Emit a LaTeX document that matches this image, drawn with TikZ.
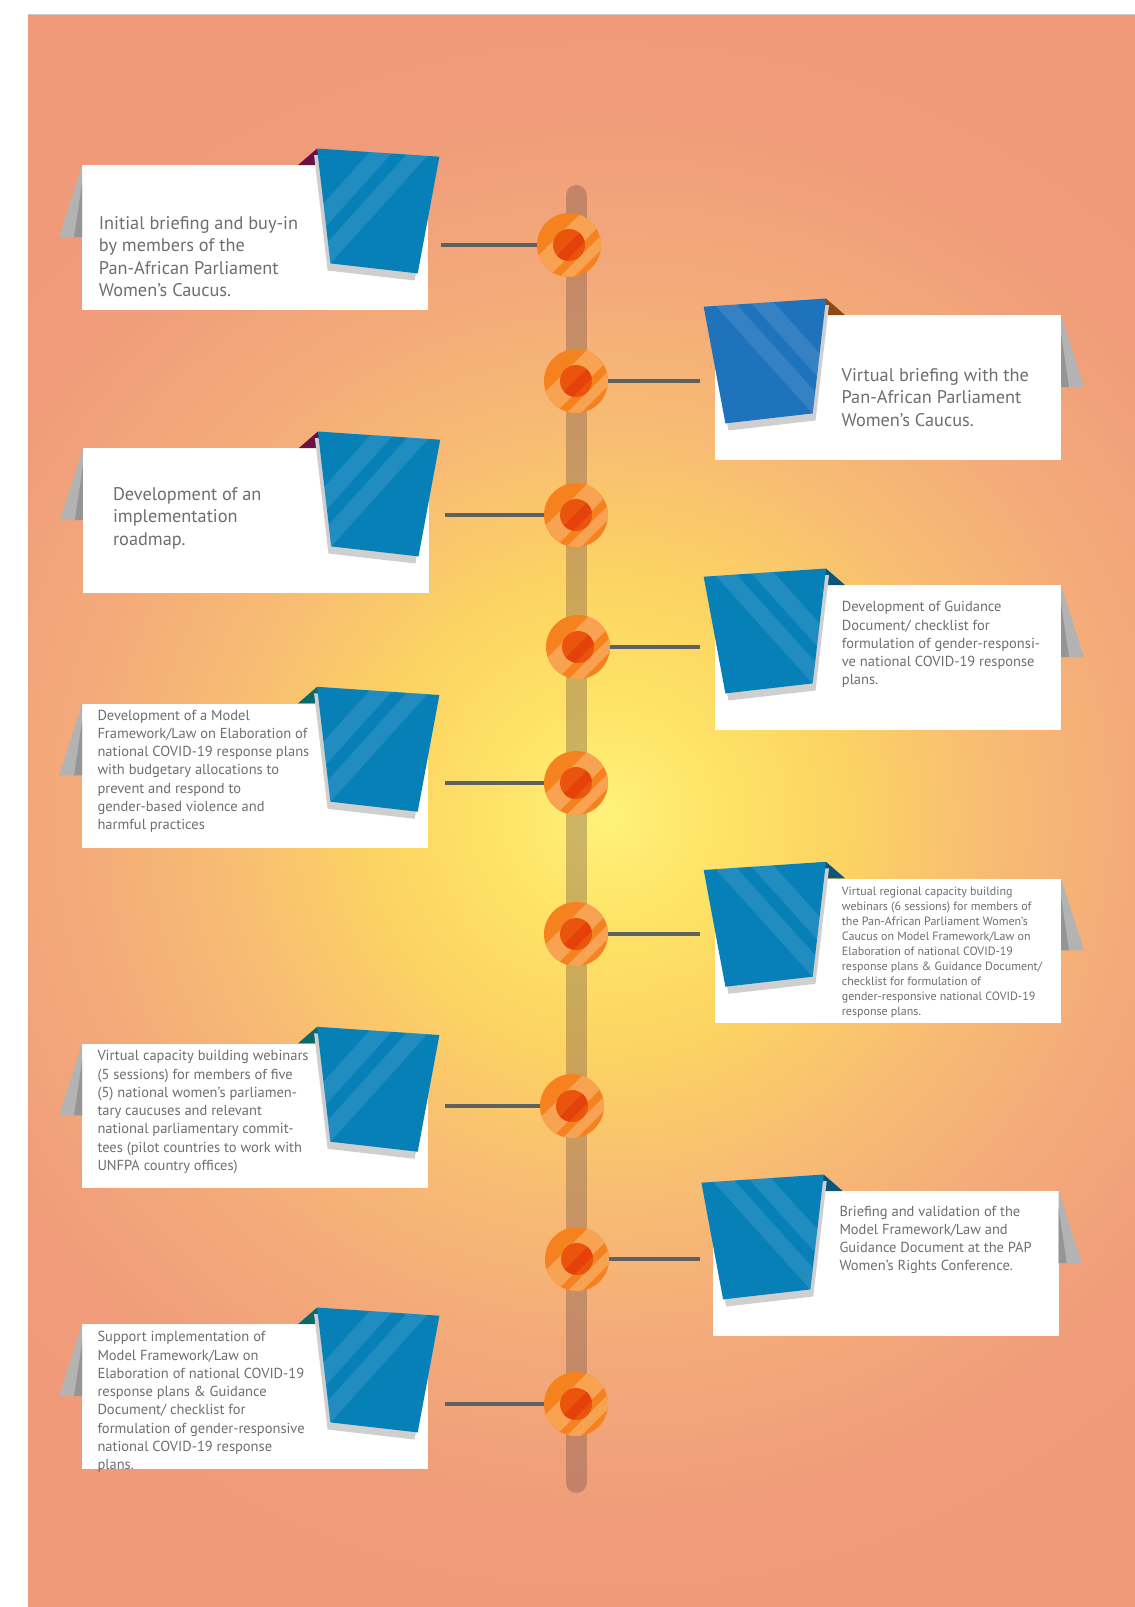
\documentclass[tikz,border=0pt]{standalone}
\usepackage{fontspec}
\setmainfont{PT Sans}

\definecolor{edgec}{HTML}{F09A7A}
\definecolor{glowa}{HTML}{FFF27A}
\definecolor{glowb}{HTML}{FEE468}
\definecolor{glowc}{HTML}{FCD462}
\definecolor{glowd}{HTML}{F8BE72}
\definecolor{glowe}{HTML}{F4AC7A}
\definecolor{glowf}{HTML}{F09C7A}
\definecolor{barc}{HTML}{6E4E48}
\definecolor{linkc}{HTML}{5F6062}
\definecolor{ringc}{HTML}{F5821F}
\definecolor{ringlt}{HTML}{F8A352}
\definecolor{corec}{HTML}{EA540C}
\definecolor{coredk}{HTML}{E5410A}
\definecolor{inkc}{HTML}{6D6E70}
\definecolor{tabblue}{HTML}{0780B8}
\definecolor{tabroyal}{HTML}{1F73BD}
\definecolor{tabshade}{HTML}{CFCFCF}
\definecolor{flaplt}{HTML}{B3B3B3}
\definecolor{flapdk}{HTML}{959595}
\definecolor{foldplum}{HTML}{6C1242}
\definecolor{foldrust}{HTML}{8E4A12}
\definecolor{foldnavy}{HTML}{0B5678}
\definecolor{foldteal}{HTML}{0A6A6A}
\definecolor{rulec}{HTML}{C9C9C9}

\pgfdeclareradialshading{sunglow}{\pgfpoint{0bp}{0bp}}{%
  color(0bp)=(glowa); color(2.6bp)=(glowb); color(5.8bp)=(glowc);
  color(9.2bp)=(glowd); color(12.9bp)=(glowe); color(17.5bp)=(glowf);
  color(20bp)=(edgec); color(50bp)=(edgec)}

\begin{document}
\begin{tikzpicture}[x=1pt, y=-1pt,
        card/.style={rectangle, fill=white, anchor=north west, inner sep=0pt,
            minimum width=346pt, minimum height=144.5pt},
        link/.style={draw=linkc, line width=3.8pt},
        bigtxt/.style={anchor=base west, align=left, inner sep=0pt, text=inkc,
            font=\fontsize{18.3pt}{22.5pt}\selectfont},
        midtxt/.style={bigtxt, font=\fontsize{14.5pt}{18.3pt}\selectfont},
        smalltxt/.style={bigtxt, font=\fontsize{12pt}{15pt}\selectfont}
    ]

    \tikzset{
    mstone/.style={circle, fill=ringc, minimum size=64pt, inner sep=0pt,
        path picture={
            \begin{scope}[shift={(path picture bounding box.center)}, x=1pt, y=-1pt]
                \fill[ringlt] (25.5,-45.3) -- (-45.3,25.5) -- (-29.7,41.1) -- (41.1,-29.7) -- cycle;
                \fill[ringlt] (46.7,-24.1) -- (-24.1,46.7) -- (-17,53.8) -- (53.8,-17) -- cycle;
                \fill[corec] (0,0) circle (16pt);
                \clip (0,0) circle (16pt);
                \fill[coredk] (34.7,-36.1) -- (-36.1,34.7) -- (-29,41.8) -- (41.8,-29) -- cycle;
            \end{scope}}},
    pics/cardtab/.style 2 args={code={
        % grey flap on the far side
        \fill[flaplt] (-346,0) -- (-369,72) -- (-346,72) -- cycle;
        \fill[flapdk] (-346,18) -- (-354,72) -- (-346,72) -- cycle;
        % folded corner and tab
        \fill[#1] (-130,0) -- (-111,-16.5) -- (-104,0) -- cycle;
        \fill[tabshade] (-114,-10) -- (8,-2) -- (-13.5,115.5) -- (-100.5,105.5) -- cycle;
        \fill[#2] (-111,-16.5) -- (11.3,-8.3) -- (-10.4,108.4) -- (-97.7,98.4) -- cycle;
        \begin{scope}
            \clip (-111,-16.5) -- (11.3,-8.3) -- (-10.4,108.4) -- (-97.7,98.4) -- cycle;
            \fill[white, opacity=.1] (-52,-20) -- (-29,-20) -- (-155,120) -- (-178,120) -- cycle;
            \fill[white, opacity=.1] (-13,-20) -- (9,-20) -- (-117,120) -- (-139,120) -- cycle;
        \end{scope}
    }}
}

    \useasboundingbox (0,0) rectangle (1135,1607);

    % background
    \fill[white] (0,0) rectangle (1135,1607);
    \begin{scope}
        \clip (28,15) rectangle (1135,1607);
        \shade[shading=sunglow] (608,815) circle (1000pt);
    \end{scope}
    \draw[rulec, line width=1.2pt] (28,14.4) -- (1135,14.4);

    % timeline
    \draw[barc, opacity=.35, line width=21pt, line cap=round] (576,195.5) -- (576,1482.5);

    \node[mstone] (M1) at (569,245) {};
    \node[mstone] (M2) at (576,381) {};
    \node[mstone] (M3) at (576,515) {};
    \node[mstone] (M4) at (578,647) {};
    \node[mstone] (M5) at (576,783) {};
    \node[mstone] (M6) at (576,934) {};
    \node[mstone] (M7) at (572,1106) {};
    \node[mstone] (M8) at (577,1259) {};
    \node[mstone] (M9) at (576,1404) {};

    \coordinate (L1) at (441,245);
    \coordinate (R2) at (700,381);
    \coordinate (L3) at (445,515);
    \coordinate (R4) at (700,647);
    \coordinate (L5) at (445,783);
    \coordinate (R6) at (700,934);
    \coordinate (L7) at (445,1106);
    \coordinate (R8) at (700,1259);
    \coordinate (L9) at (445,1404);

    \draw[link] (L1) -- (M1);
    \draw[link] (M2) -- (R2);
    \draw[link] (L3) -- (M3);
    \draw[link] (M4) -- (R4);
    \draw[link] (L5) -- (M5);
    \draw[link] (M6) -- (R6);
    \draw[link] (L7) -- (M7);
    \draw[link] (M8) -- (R8);
    \draw[link] (L9) -- (M9);

    % cards
    \node[card] (C1) at (81.7,165) {};
    \node[card] (C2) at (715,315) {};
    \node[card] (C3) at (82.5,448) {};
    \node[card] (C4) at (715,585) {};
    \node[card] (C5) at (81.7,703.3) {};
    \node[card] (C6) at (715,878.3) {};
    \node[card] (C7) at (81.7,1043.3) {};
    \node[card] (C8) at (712.7,1191) {};
    \node[card] (C9) at (81.7,1324) {};

    \pic at (C1.north east) {cardtab={foldplum}{tabblue}};
    \pic[xscale=-1] at (C2.north west) {cardtab={foldrust}{tabroyal}};
    \pic at (C3.north east) {cardtab={foldplum}{tabblue}};
    \pic[xscale=-1] at (C4.north west) {cardtab={foldnavy}{tabblue}};
    \pic at (C5.north east) {cardtab={foldteal}{tabblue}};
    \pic[xscale=-1] at (C6.north west) {cardtab={foldnavy}{tabblue}};
    \pic at (C7.north east) {cardtab={foldteal}{tabblue}};
    \pic[xscale=-1] at (C8.north west) {cardtab={foldnavy}{tabblue}};
    \pic at (C9.north east) {cardtab={foldteal}{tabblue}};

    % texts (anchored at the baseline of their last line)
    \node[bigtxt] (T1) at ([shift={(17,131.8)}]C1.north west)
        {Initial briefing and buy-in\\by members of the\\Pan-African Parliament\\Women’s Caucus.};
    \node[bigtxt] (T2) at ([shift={(126.4,111.3)}]C2.north west)
        {Virtual briefing with the\\Pan-African Parliament\\Women’s Caucus.};
    \node[bigtxt] (T3) at ([shift={(30.3,97.3)}]C3.north west)
        {Development of an\\implementation\\roadmap.};
    \node[midtxt] (T4) at ([shift={(126.7,99.9)}]C4.north west)
        {Development of Guidance\\Document/ checklist for\\formulation of gender-responsi-\\ve national COVID-19 response\\plans.};
    \node[midtxt] (T5) at ([shift={(15.6,126.5)}]C5.north west)
        {Development of a Model\\Framework/Law on Elaboration of\\national COVID-19 response plans\\with budgetary allocations to\\prevent and respond to\\gender-based violence and\\harmful practices};
    \node[smalltxt] (T6) at ([shift={(126.7,137.4)}]C6.north west)
        {Virtual regional capacity building\\webinars (6 sessions) for members of\\the Pan-African Parliament Women’s\\Caucus on Model Framework/Law on\\Elaboration of national COVID-19\\response plans \& Guidance Document/\\checklist for formulation of\\gender-responsive national COVID-19\\response plans.};
    \node[midtxt] (T7) at ([shift={(15.6,127.2)}]C7.north west)
        {Virtual capacity building webinars\\(5 sessions) for members of five\\(5) national women’s parliamen-\\tary caucuses and relevant\\national parliamentary commit-\\tees (pilot countries to work with\\UNFPA country offices)};
    \node[midtxt] (T8) at ([shift={(126.6,79.9)}]C8.north west)
        {Briefing and validation of the\\Model Framework/Law and\\Guidance Document at the PAP\\Women’s Rights Conference.};
    \node[midtxt] (T9) at ([shift={(15.6,145.8)}]C9.north west)
        {Support implementation of\\Model Framework/Law on\\Elaboration of national COVID-19\\response plans \& Guidance\\Document/ checklist for\\formulation of gender-responsive\\national COVID-19 response\\plans.};
\end{tikzpicture}
\end{document}
